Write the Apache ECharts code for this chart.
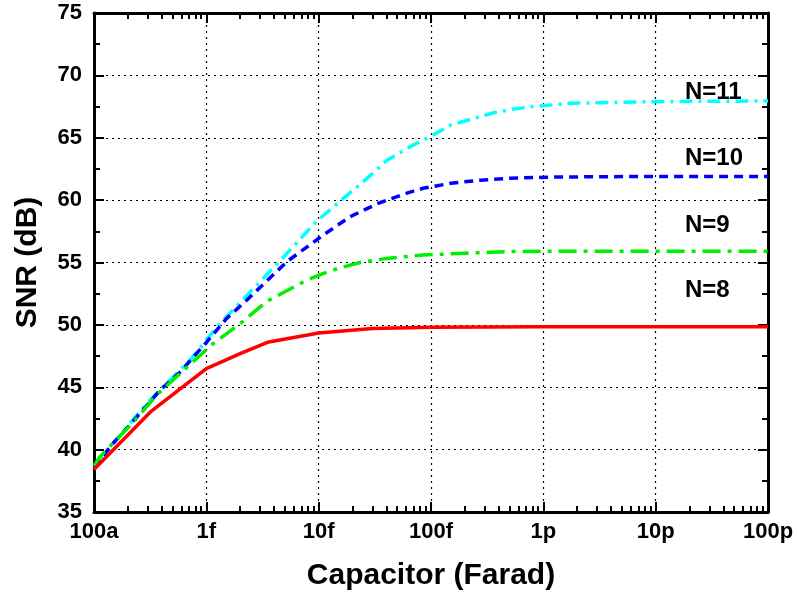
<!DOCTYPE html>
<html>
<head>
<meta charset="utf-8">
<script src="https://cdn.jsdelivr.net/npm/echarts@6/dist/echarts.min.js"></script>
<style>
html,body{margin:0;padding:0;background:#fff;}
#chart{width:798px;height:603px;}
</style>
</head>
<body>
<div id="chart"></div>
<script>
// ---- data ----
var xTickLabels = ['100a', '1f', '10f', '100f', '1p', '10p', '100p'];
var seriesNames = ['N=8', 'N=9', 'N=10', 'N=11'];

var capN8  = [1e-16, 3.16e-16, 1e-15, 2e-15, 3.5e-15, 1e-14, 3e-14, 1e-13, 1e-12, 1e-10];
var snrN8  = [38.4, 43.0, 46.5, 47.7, 48.6, 49.35, 49.7, 49.8, 49.85, 49.85];

var capN9  = [1e-16, 1.12e-16, 2.24e-16, 3.63e-16, 6.8e-16, 1.15e-15, 2e-15, 3.47e-15, 7.9e-15, 1.02e-14, 1.45e-14, 2.34e-14, 4.07e-14, 8.5e-14, 1.95e-13, 4.7e-13, 1e-12, 1e-10];
var snrN9  = [38.7, 39.4, 42.2, 44.4, 46.65, 48.5, 50.1, 51.9, 53.6, 54.0, 54.5, 55.0, 55.33, 55.6, 55.74, 55.87, 55.9, 55.9];

var capN10 = [1e-16, 1.48e-16, 2.4e-16, 3.9e-16, 5.9e-16, 9.8e-16, 1.51e-15, 2.3e-15, 5.2e-15, 1.1e-14, 1.9e-14, 3.4e-14, 6.3e-14, 8.5e-14, 1.5e-13, 2.75e-13, 5e-13, 1.2e-12, 1e-11, 1e-10];
var snrN10 = [38.6, 40.5, 42.6, 44.8, 46.25, 48.5, 50.5, 52.0, 55.06, 57.2, 58.67, 59.75, 60.6, 60.95, 61.35, 61.6, 61.75, 61.85, 61.9, 61.9];

var capN11 = [1e-16, 1.12e-16, 2.95e-16, 7.2e-16, 1.32e-15, 4.9e-15, 9.5e-15, 1.66e-14, 2.5e-14, 4.07e-14, 6.9e-14, 9.8e-14, 1.48e-13, 2.1e-13, 3.6e-13, 5.4e-13, 8.1e-13, 1.74e-12, 1e-11, 1e-10];
var snrN11 = [38.7, 39.2, 43.7, 47.2, 50.1, 55.46, 58.27, 60.14, 61.48, 63.2, 64.4, 65.08, 66.0, 66.4, 67.0, 67.3, 67.5, 67.76, 67.9, 67.95];

var yMin = 35, yMax = 75, yStep = 5;
var xMinExp = -16, xMaxExp = -10;
var xMin = Math.pow(10, xMinExp), xMax = Math.pow(10, xMaxExp);

// minor tick positions (as decade exponents) for 2..9 within each decade
var minorTickExp = [];
for (var e = xMinExp; e < xMaxExp; e++) {
  for (var m = 2; m <= 9; m++) minorTickExp.push(e + Math.log10(m));
}

function pairs(xs, ys) {
  var out = [];
  for (var i = 0; i < xs.length; i++) out.push([xs[i], ys[i]]);
  return out;
}

var FONT = '"Liberation Sans", Arial, sans-serif';
var chart = echarts.init(document.getElementById('chart'), null, {renderer: 'canvas'});

function gridLine() { return {show: true, lineStyle: {color: '#000', width: 1.2, type: [2, 4]}}; }
function axisLine() { return {show: true, onZero: false, lineStyle: {color: '#000', width: 3}}; }
function tickStyle() { return {color: '#000', width: 2}; }

function majorLogAxis(pos, labels) {
  return {
    type: 'log', logBase: 10, position: pos, min: xMin, max: xMax, interval: 1,
    axisLine: axisLine(),
    axisTick: {show: true, inside: true, length: 10, lineStyle: tickStyle()},
    axisLabel: labels ? {
      show: true, margin: 9, color: '#000', fontFamily: FONT, fontSize: 22, fontWeight: 'bold',
      formatter: function (v) { var i = Math.round(Math.log10(v)) - xMinExp; return xTickLabels[i] || ''; }
    } : {show: false},
    splitLine: labels ? gridLine() : {show: false}
  };
}
// decoration-only axis in exponent space, carrying the log minor ticks
function minorTickAxis(pos) {
  return {
    type: 'value', position: pos, min: xMinExp, max: xMaxExp, interval: 1,
    axisLine: {show: false},
    axisTick: {show: true, inside: true, length: 6, customValues: minorTickExp, lineStyle: tickStyle()},
    axisLabel: {show: false},
    splitLine: {show: false}
  };
}

var option = {
  animation: false,
  backgroundColor: '#fff',
  grid: {left: 94, right: 30, top: 13, bottom: 91, containLabel: false},
  xAxis: [
    Object.assign(majorLogAxis('bottom', true), {
      name: 'Capacitor (Farad)', nameLocation: 'middle', nameGap: 49,
      nameTextStyle: {color: '#000', fontFamily: FONT, fontSize: 30, fontWeight: 'bold'}
    }),
    minorTickAxis('bottom'),
    majorLogAxis('top', false),
    minorTickAxis('top')
  ],
  yAxis: [
    {
      type: 'value', position: 'left', min: yMin, max: yMax, interval: yStep,
      name: 'SNR (dB)', nameLocation: 'middle', nameGap: 51,
      nameTextStyle: {color: '#000', fontFamily: FONT, fontSize: 30, fontWeight: 'bold'},
      axisLine: axisLine(),
      axisTick: {show: true, inside: true, length: 10, lineStyle: tickStyle()},
      minorTick: {show: true, splitNumber: 2, length: 6, lineStyle: tickStyle()},
      axisLabel: {show: true, margin: 12, color: '#000', fontFamily: FONT, fontSize: 22, fontWeight: 'bold'},
      splitLine: gridLine()
    },
    {
      type: 'value', position: 'right', min: yMin, max: yMax, interval: yStep,
      axisLine: axisLine(),
      axisTick: {show: true, inside: true, length: 10, lineStyle: tickStyle()},
      minorTick: {show: true, splitNumber: 2, length: 6, lineStyle: tickStyle()},
      axisLabel: {show: false},
      splitLine: {show: false}
    }
  ],
  series: [
    {name: seriesNames[0], type: 'line', data: pairs(capN8, snrN8), showSymbol: false, symbol: 'none', z: 5,
     lineStyle: {color: '#ff0000', width: 3.5, type: 'solid'}},
    {name: seriesNames[1], type: 'line', data: pairs(capN9, snrN9), showSymbol: false, symbol: 'none', z: 4,
     lineStyle: {color: '#00ee00', width: 3.5, type: [18, 7, 4, 7]}},
    {name: seriesNames[2], type: 'line', data: pairs(capN10, snrN10), showSymbol: false, symbol: 'none', z: 3,
     lineStyle: {color: '#0000ff', width: 3.5, type: [9, 6]}},
    {name: seriesNames[3], type: 'line', data: pairs(capN11, snrN11), showSymbol: false, symbol: 'none', z: 2,
     lineStyle: {color: '#00ffff', width: 3.5, type: [13, 6, 3, 6]}}
  ],
  graphic: [
    {type: 'text', left: 685, top: 80, style: {text: seriesNames[3], font: 'bold 24px ' + FONT, fill: '#000'}},
    {type: 'text', left: 685, top: 146, style: {text: seriesNames[2], font: 'bold 24px ' + FONT, fill: '#000'}},
    {type: 'text', left: 685, top: 213, style: {text: seriesNames[1], font: 'bold 24px ' + FONT, fill: '#000'}},
    {type: 'text', left: 685, top: 278, style: {text: seriesNames[0], font: 'bold 24px ' + FONT, fill: '#000'}}
  ]
};
chart.setOption(option);
</script>
</body>
</html>
